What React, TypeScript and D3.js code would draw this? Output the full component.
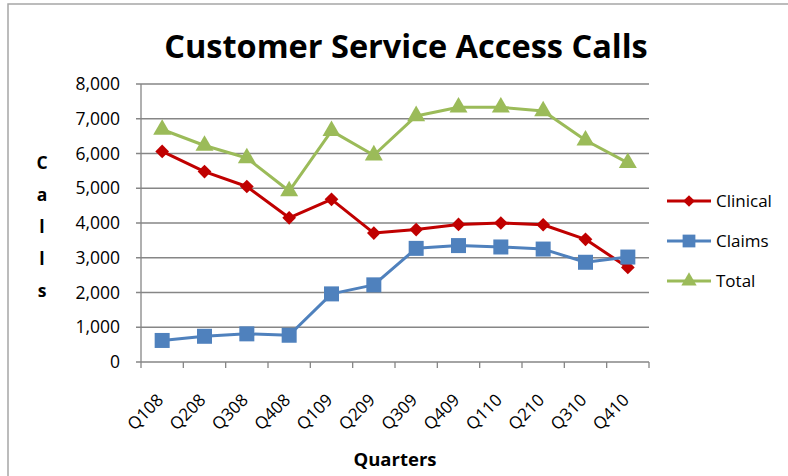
import React from "react";
import * as d3 from "d3";

const quarters = ["Q108","Q208","Q308","Q408","Q109","Q209","Q309","Q409","Q110","Q210","Q310","Q410"];
const clinical = [6060,5480,5050,4150,4680,3710,3810,3960,4000,3950,3530,2720];
const claims = [620,740,810,770,1960,2220,3270,3350,3310,3250,2870,3020];
const total = [6690,6230,5870,4920,6650,5950,7080,7330,7330,7220,6380,5730];
const yTicks = [0,1000,2000,3000,4000,5000,6000,7000,8000];
const seriesNames = ["Clinical","Claims","Total"];

const W = 788, H = 476;
const FONT = "'Open Sans', sans-serif";
const GRID = "#868686";
const colors = ["#C00000", "#4F81BD", "#9BBB59"];

function Marker({ kind, x, y, color, scale = 1 }: { kind: number; x: number; y: number; color: string; scale?: number }) {
  if (kind === 0) {
    const s = d3.symbol().type(d3.symbolDiamond2).size(120 * scale * scale)();
    return <path d={s || ""} transform={`translate(${x},${y})`} fill={color} />;
  }
  if (kind === 1) {
    const h = 7.5 * scale;
    return <rect x={x - h} y={y - h} width={2 * h} height={2 * h} fill={color} />;
  }
  const s = d3.symbol().type(d3.symbolTriangle).size(140 * scale * scale)();
  return <path d={s || ""} transform={`translate(${x},${y})`} fill={color} />;
}

export default function App() {
  const left = 141, right = 649, top = 84, bottom = 362;
  const x = d3.scaleBand<string>().domain(quarters).range([left, right]);
  const y = d3.scaleLinear().domain([0, 8000]).range([bottom, top]);
  const cx = (q: string) => (x(q) as number) + x.bandwidth() / 2;
  const data = [clinical, claims, total];
  const line = d3.line<number>().x((_, i) => cx(quarters[i])).y((v) => y(v));
  const fmt = d3.format(",");
  const boundaries = quarters.map((q) => x(q) as number).concat([right]);
  const legendY = [201, 241, 281];
  const callsLetters = ["C", "a", "l", "l", "s"];
  const callsY = [169, 201, 233, 265, 297];

  return (
    <svg width={W} height={H} style={{ position: "absolute", left: 0, top: 0 }} fontFamily={FONT}>
      <rect x={0} y={0} width={W} height={H} fill="#fff" />
      <rect x={8} y={4} width={W + 10} height={H + 10} fill="none" stroke="#a6a6a6" strokeWidth={1.5} />
      <text x={406} y={58} textAnchor="middle" fontWeight="bold" fontSize={32.5} fill="#000">
        Customer Service Access Calls
      </text>
      {yTicks.map((t) => (
        <g key={t}>
          <line x1={left - 5} x2={right} y1={y(t)} y2={y(t)} stroke={GRID} strokeWidth={1.3} />
          <text x={120} y={y(t)} dy="0.35em" textAnchor="end" fontSize={17.5} fill="#000">
            {fmt(t)}
          </text>
        </g>
      ))}
      <line x1={left} x2={left} y1={top} y2={bottom} stroke={GRID} strokeWidth={1.3} />
      {boundaries.map((b, i) => (
        <line key={i} x1={b} x2={b} y1={bottom} y2={bottom + 6} stroke={GRID} strokeWidth={1.3} />
      ))}
      {quarters.map((q) => (
        <text
          key={q}
          transform={`translate(${cx(q) - 2},${bottom + 35}) rotate(-45)`}
          textAnchor="end"
          dy="0.35em"
          fontSize={17}
          fill="#000"
        >
          {q}
        </text>
      ))}
      <text x={395} y={466} textAnchor="middle" fontWeight="bold" fontSize={18.5} fill="#000">
        Quarters
      </text>
      {callsLetters.map((c, i) => (
        <text key={i} x={42} y={callsY[i]} textAnchor="middle" fontWeight="bold" fontSize={17.5} fill="#000">
          {c}
        </text>
      ))}
      {data.map((vals, si) => (
        <g key={si}>
          <path d={line(vals) || ""} fill="none" stroke={colors[si]} strokeWidth={3} strokeLinejoin="round" />
          {vals.map((v, i) => (
            <Marker key={i} kind={si} x={cx(quarters[i])} y={y(v)} color={colors[si]} />
          ))}
        </g>
      ))}
      {seriesNames.map((n, i) => (
        <g key={n}>
          <line x1={667} x2={711} y1={legendY[i]} y2={legendY[i]} stroke={colors[i]} strokeWidth={3} />
          <Marker kind={i} x={689} y={legendY[i]} color={colors[i]} scale={0.85} />
          <text x={716} y={legendY[i]} dy="0.35em" fontSize={17} fill="#000">
            {n}
          </text>
        </g>
      ))}
    </svg>
  );
}
